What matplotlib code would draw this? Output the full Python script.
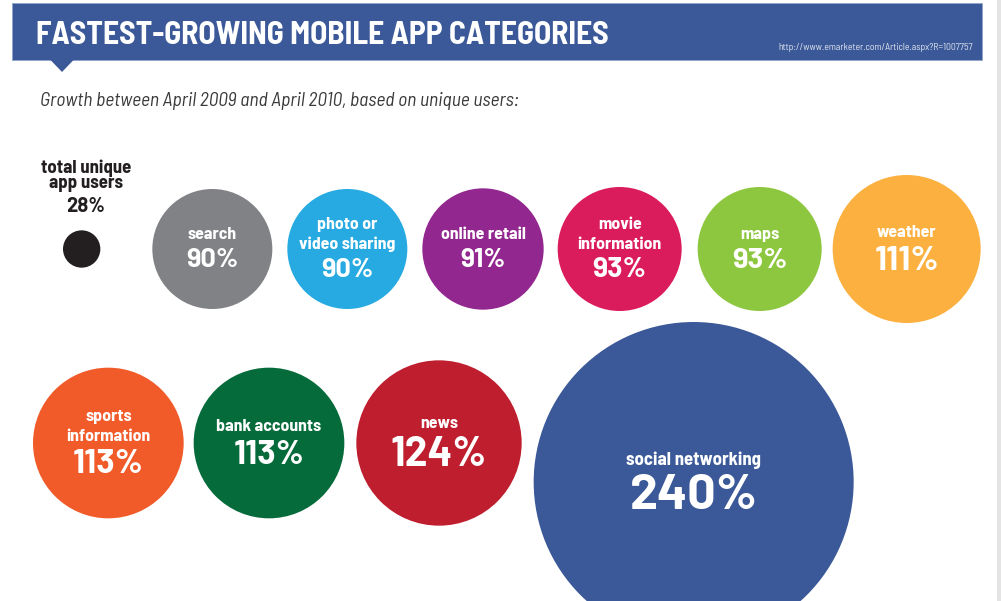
import matplotlib
matplotlib.use("Agg")
import matplotlib.pyplot as plt
from matplotlib.patches import Circle, Rectangle, Polygon

# ---------------- data ----------------
categories = ["total unique app users", "search", "photo or video sharing",
              "online retail", "movie information", "maps", "weather",
              "sports information", "bank accounts", "news", "social networking"]
label_text = ["total unique\napp users", "search", "photo or\nvideo sharing",
              "online retail", "movie\ninformation", "maps", "weather",
              "sports\ninformation", "bank accounts", "news", "social networking"]
growth = [28, 90, 90, 91, 93, 93, 111, 113, 113, 124, 240]

title = "FASTEST-GROWING MOBILE APP CATEGORIES"
subtitle = "Growth between April 2009 and April 2010, based on unique users:"
source = "http://www.emarketer.com/Article.aspx?R=1007757"

# ---------------- styles / layout ----------------
colors = ["#231f20", "#808285", "#27aae1", "#92278f", "#da1c5c", "#8dc63f",
          "#fbb040", "#f15a29", "#066b3a", "#be1e2d", "#3b5998"]
pct_sizes = [14.5, 19.5, 19.5, 19, 20.5, 21, 24.5, 24.5, 24.5, 29.5, 36]
row_of = [0, 0, 0, 0, 0, 0, 0, 1, 1, 1, 1]
gap_before = [63, 52, 15, 15, 14, 16, 11, 33, 10, 12, 12]
row_y = [249, 443]
y_shift = [0, 0, 0, 0, 0, 0, 0, 0, 0, 0, 39]
px_per_pct = 2.0 / 3.0   # radius in pixels per percentage point
HEADER = "#3b5998"

FAM = ["Barlow Semi Condensed", "Liberation Sans", "DejaVu Sans"]
FAM_PCT = ["Barlow", "Liberation Sans", "DejaVu Sans"]
FAM_TITLE = ["Barlow Semi Condensed", "Liberation Sans Narrow", "Liberation Sans", "DejaVu Sans"]

W, H = 1001, 601
fig = plt.figure(figsize=(W / 100, H / 100), dpi=100)
ax = fig.add_axes([0, 0, 1, 1])
ax.set_xlim(0, W)
ax.set_ylim(H, 0)
ax.axis("off")

def pt2px(pt):
    return pt * 100 / 72.0

# header band, pointer and right edge strip
ax.add_patch(Rectangle((12, 3), 970, 57, facecolor=HEADER, edgecolor="#8fa3c9", lw=0.6))
ax.add_patch(Polygon([(50, 59.5), (74, 59.5), (62, 72)], closed=True, facecolor=HEADER, edgecolor="none"))
ax.add_patch(Rectangle((997, 0), 4, H, facecolor="#e4e4e4", edgecolor="none"))

ax.text(36, 43.5, title, fontsize=22.8, fontweight="bold", family=FAM_TITLE, color="white",
        va="baseline", ha="left")
ax.text(973, 50, source, fontsize=7, family=FAM, color="#dfe4ef", va="baseline", ha="right")
ax.text(40, 106, subtitle, fontsize=14, style="italic", fontweight="normal", family=FAM,
        color="#3a3a3a", va="baseline", ha="left")

# circles
x_edge = {0: 0.0, 1: 0.0}
label_pt = 12.8
for i, (lab, val) in enumerate(zip(label_text, growth)):
    r = val * px_per_pct
    row = row_of[i]
    left = x_edge[row] + gap_before[i]
    cx = left + r
    x_edge[row] = cx + r
    cy = row_y[row] + y_shift[i]
    ax.add_patch(Circle((cx, cy), r, facecolor=colors[i], edgecolor="none"))

    lines = lab.split("\n")
    n = len(lines)
    D = 0.70 * pt2px(pct_sizes[i])
    if i == 0:
        L = 15.5
        lp = 13.5
        A = 0.70 * pt2px(lp)
        Hb = A + (n - 1) * L + 10 + D
        bottom = cy - r - 18
        top = bottom - Hb
        tx = cx + 4
        tcol = "#231f20"
    else:
        L = 19.5
        lp = 13.5 if val > 200 else label_pt
        A = 0.70 * pt2px(lp)
        Hb = A + (n - 1) * L + 9 + D
        top = cy - 2 - Hb / 2
        tx = cx
        tcol = "white"
    for k, line in enumerate(lines):
        ax.text(tx, top + A + k * L, line, fontsize=lp, fontweight="bold", family=FAM,
                color=tcol, ha="center", va="baseline")
    ax.text(tx, top + Hb, f"{val}%", fontsize=pct_sizes[i], fontweight="bold", family=FAM_PCT,
            color=tcol, ha="center", va="baseline")

fig.savefig("out.png", dpi=100)
